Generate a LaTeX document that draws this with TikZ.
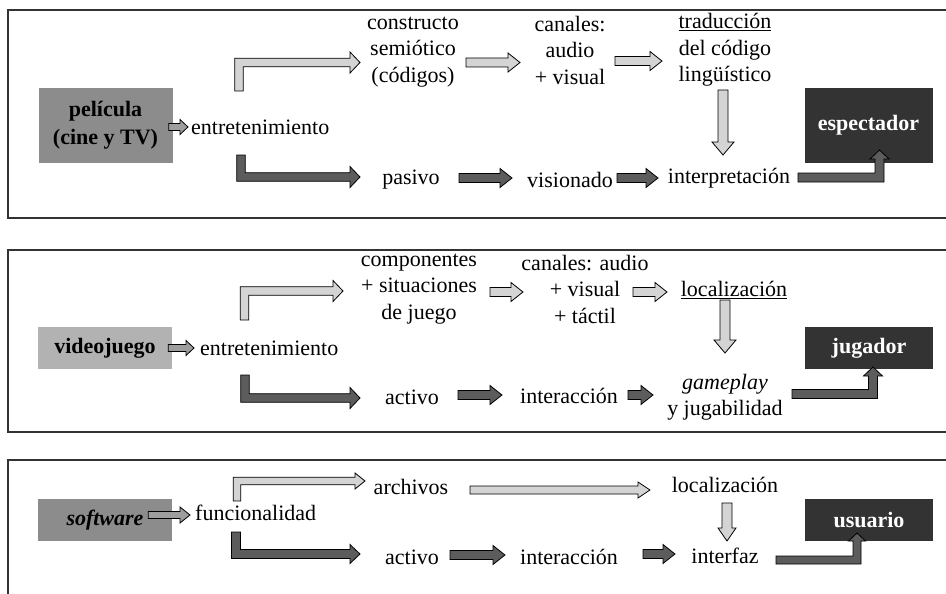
\documentclass[tikz,border=0pt]{standalone}
\usepackage{fontspec}
\setmainfont{Liberation Serif}
\usetikzlibrary{calc}

\definecolor{boxmid}{gray}{0.55}
\definecolor{boxlite}{gray}{0.70}
\definecolor{boxdark}{gray}{0.20}
\definecolor{arrlite}{gray}{0.83}
\definecolor{arrdark}{gray}{0.36}
\definecolor{arrmid}{gray}{0.62}

% block arrow sizes: half shaft / half head / head length
\def\arW{4.5}\def\arH{9.5}\def\arL{12}

\tikzset{
  lbl/.style={font=\fontsize{22}{26.5}\selectfont, align=center, inner sep=0pt},
  srcbox/.style={lbl, font=\fontsize{22}{28}\selectfont\bfseries, minimum width=134pt},
  endbox/.style={srcbox, fill=boxdark, text=white, minimum width=128pt},
  frame/.style={draw=black!80, line width=1.3pt},
  blkarr/.style={draw=black, line width=0.8pt, line join=miter},
  litearr/.style={blkarr, fill=arrlite},
  darkarr/.style={blkarr, fill=arrdark},
  midarr/.style={blkarr, fill=arrmid},
  adim/.code args={#1/#2/#3}{\def\arW{#1}\def\arH{#2}\def\arL{#3}},
  % straight, to the right
  harr/.style={to path={
    ($(\tikztostart)+(0,-\arW)$)
    -- ($(\tikztotarget |- \tikztostart)+(-\arL,-\arW)$)
    -- ($(\tikztotarget |- \tikztostart)+(-\arL,-\arH)$)
    -- (\tikztotarget |- \tikztostart)
    -- ($(\tikztotarget |- \tikztostart)+(-\arL,\arH)$)
    -- ($(\tikztotarget |- \tikztostart)+(-\arL,\arW)$)
    -- ($(\tikztostart)+(0,\arW)$) -- cycle}},
  % straight, downwards
  varr/.style={to path={
    ($(\tikztostart)+(-\arW,0)$)
    -- ($(\tikztostart |- \tikztotarget)+(-\arW,-\arL)$)
    -- ($(\tikztostart |- \tikztotarget)+(-\arH,-\arL)$)
    -- (\tikztostart |- \tikztotarget)
    -- ($(\tikztostart |- \tikztotarget)+(\arH,-\arL)$)
    -- ($(\tikztostart |- \tikztotarget)+(\arW,-\arL)$)
    -- ($(\tikztostart)+(\arW,0)$) -- cycle}},
  % up, then right
  uparr/.style={to path={
    ($(\tikztostart)+(-\arW,0)$)
    -- ($(\tikztostart |- \tikztotarget)+(-\arW,-\arW)$)
    -- ($(\tikztotarget)+(-\arL,-\arW)$)
    -- ($(\tikztotarget)+(-\arL,-\arH)$)
    -- (\tikztotarget)
    -- ($(\tikztotarget)+(-\arL,\arH)$)
    -- ($(\tikztotarget)+(-\arL,\arW)$)
    -- ($(\tikztostart |- \tikztotarget)+(\arW,\arW)$)
    -- ($(\tikztostart)+(\arW,0)$) -- cycle}},
  % down, then right
  dnarr/.style={to path={
    ($(\tikztostart)+(-\arW,0)$)
    -- ($(\tikztostart |- \tikztotarget)+(-\arW,\arW)$)
    -- ($(\tikztotarget)+(-\arL,\arW)$)
    -- ($(\tikztotarget)+(-\arL,\arH)$)
    -- (\tikztotarget)
    -- ($(\tikztotarget)+(-\arL,-\arH)$)
    -- ($(\tikztotarget)+(-\arL,-\arW)$)
    -- ($(\tikztostart |- \tikztotarget)+(\arW,-\arW)$)
    -- ($(\tikztostart)+(\arW,0)$) -- cycle}},
  % right, then up
  rtup/.style={to path={
    ($(\tikztostart)+(0,\arW)$)
    -- ($(\tikztotarget |- \tikztostart)+(\arW,\arW)$)
    -- ($(\tikztotarget)+(\arW,\arL)$)
    -- ($(\tikztotarget)+(\arH,\arL)$)
    -- (\tikztotarget)
    -- ($(\tikztotarget)+(-\arH,\arL)$)
    -- ($(\tikztotarget)+(-\arW,\arL)$)
    -- ($(\tikztotarget |- \tikztostart)+(-\arW,-\arW)$)
    -- ($(\tikztostart)+(0,-\arW)$) -- cycle}},
}

\begin{document}
\begin{tikzpicture}[x=1pt, y=-1pt]
\useasboundingbox (0,0) rectangle (946,594);
\clip (0,0) rectangle (946,594);

% Panel 1: film
\draw[frame] (8,10) rectangle (960,218);
\node[srcbox, fill=boxmid, minimum height=75pt] (pel1) at (105.5,125.5) {película\\(cine y TV)};
\node[lbl, anchor=west] (ent1) at (191,127) {entretenimiento};
\node[lbl] (cons1) at (413,52) {constructo\\semiótico\\(códigos)};
\node[lbl] (can1) at (570,50) {canales:\\audio\\+ visual};
\node[lbl] (trad1) at (725,50) {\underline{traducción}\\del código\\lingüístico};
\node[lbl] (pas1) at (411,180) {pasivo};
\node[lbl] (vis1) at (570,180) {visionado};
\node[lbl] (int1) at (729,178) {interpretación};
\node[endbox, minimum height=75pt] (esp1) at (868.5,125.5) {espectador};

\draw[midarr, harr, adim=3.5/7.5/8] ($(pel1.east)+(-4,1.5)$) to ($(ent1.west)+(-3,0)$);
\draw[litearr, uparr, adim=4.3/10.5/10] ($(ent1.west)+(48,-36)$) to ($(cons1)+(-53,10.5)$);
\draw[darkarr, dnarr, adim=4.3/10.5/10] ($(ent1.west)+(50,28)$) to ($(pas1)+(-51,-3)$);
\draw[litearr, harr] ($(cons1)+(53,10.5)$) to ($(can1)+(-50,0)$);
\draw[litearr, harr] ($(can1)+(45,11)$) to ($(trad1)+(-63,0)$);
\draw[litearr, varr, adim=5/11/13] ($(trad1)+(-2,40)$) to ($(int1)+(-6,-23)$);
\draw[darkarr, harr] ($(pas1)+(48,-2)$) to ($(vis1)+(-58,0)$);
\draw[darkarr, harr] ($(vis1)+(47,-2)$) to ($(int1)+(-71,0)$);
\draw[darkarr, rtup, adim=4.5/9.5/9] ($(int1)+(69,-0.5)$) to ($(esp1)+(11,24.5)$);

% Panel 2: video game
\draw[frame] (8,250) rectangle (960,432);
\node[srcbox, fill=boxlite, minimum height=42pt] (vid2) at (105,348) {videojuego};
\node[lbl, anchor=west] (ent2) at (200,348) {entretenimiento};
\node[lbl] (comp2) at (419,289) {componentes\\+ situaciones\\de juego};
\node[lbl] (can2) at (585,289) {canales: audio\\+ visual\\+ táctil};
\node[lbl] (loc2) at (734,290) {\underline{localización}};
\node[lbl] (act2) at (412,397) {activo};
\node[lbl] (int2) at (569,396) {interacción};
\node[lbl] (game2) at (725,397) {\textit{gameplay}\\y jugabilidad};
\node[endbox, minimum height=42pt] (jug2) at (869,348) {jugador};

\draw[midarr, harr, adim=3.5/7.5/8] ($(vid2.east)+(-4,0)$) to ($(ent2.west)+(-6,0)$);
\draw[litearr, uparr, adim=4.3/10.5/10] ($(ent2.west)+(44.5,-28)$) to ($(comp2)+(-76,2)$);
\draw[darkarr, dnarr, adim=4.3/10.5/10] ($(ent2.west)+(45,27)$) to ($(act2)+(-52,1)$);
\draw[litearr, harr] ($(comp2)+(71,3)$) to ($(can2)+(-62,0)$);
\draw[litearr, harr] ($(can2)+(48,3)$) to ($(loc2)+(-67,0)$);
\draw[litearr, varr, adim=5/11/13] ($(loc2)+(-9,10)$) to ($(game2)+(0,-44)$);
\draw[darkarr, harr] ($(act2)+(46,-2)$) to ($(int2)+(-67,0)$);
\draw[darkarr, harr] ($(int2)+(59,-1)$) to ($(game2)+(-72,0)$);
\draw[darkarr, rtup, adim=4.5/9.5/9] ($(game2)+(67,-3)$) to ($(jug2)+(4,19)$);

% Panel 3: software
\draw[frame] (8,460) rectangle (960,620);
\node[srcbox, fill=boxmid, minimum height=42pt] (soft3) at (105,520) {\itshape software};
\node[lbl, anchor=west] (fun3) at (195,513) {funcionalidad};
\node[lbl] (arch3) at (411,487) {archivos};
\node[lbl] (loc3) at (725,485) {localización};
\node[lbl] (act3) at (412,557) {activo};
\node[lbl] (int3) at (569,557) {interacción};
\node[lbl] (intf3) at (725,556) {interfaz};
\node[endbox, minimum height=42pt] (usu3) at (869,520) {usuario};

\draw[midarr, harr, adim=3.5/8/10] ($(soft3.east)+(-24,-5)$) to ($(fun3.west)+(-5,0)$);
\draw[litearr, uparr, adim=3.8/8/10] ($(fun3.west)+(42,-12)$) to ($(arch3)+(-46,-6)$);
\draw[darkarr, dnarr, adim=4.5/9.5/10] ($(fun3.west)+(41,19)$) to ($(act3)+(-52,-3)$);
\draw[litearr, harr, adim=4/8/12] ($(arch3)+(59,3)$) to ($(loc3)+(-75,0)$);
\draw[litearr, varr, adim=5/9/13] ($(loc3)+(2,18)$) to ($(intf3)+(2,-15)$);
\draw[darkarr, harr] ($(act3)+(38,-2)$) to ($(int3)+(-64,0)$);
\draw[darkarr, harr] ($(int3)+(74,-3)$) to ($(intf3)+(-50,0)$);
\draw[darkarr, rtup, adim=4/8.5/8] ($(intf3)+(51,4)$) to ($(usu3)+(-12,13)$);

\end{tikzpicture}
\end{document}
